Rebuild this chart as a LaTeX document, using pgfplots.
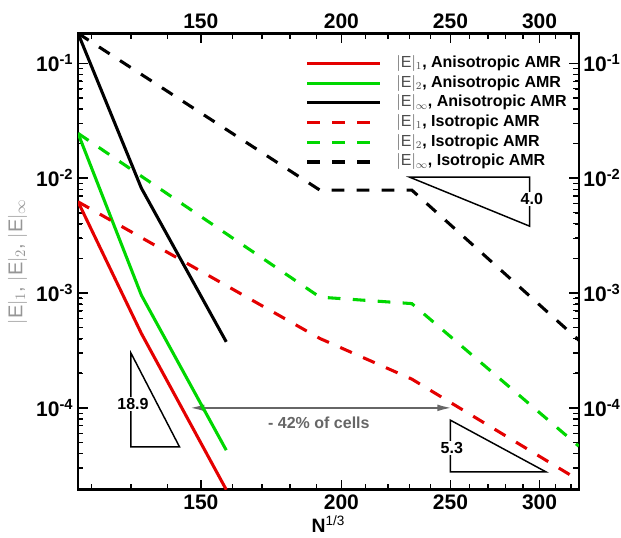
\documentclass[border=0pt]{standalone}
\usepackage{fontspec}
\setmainfont{Liberation Sans}
\usepackage{pgfplots}
\pgfplotsset{compat=1.18}
\usetikzlibrary{arrows.meta}

\definecolor{tpred}{RGB}{228,0,0}
\definecolor{tpgreen}{RGB}{0,215,0}
\definecolor{arrowgray}{RGB}{102,102,102}
\definecolor{labelgray}{RGB}{150,150,150}

\newcommand{\Enorm}{|\mathrm{E}|}

\begin{document}
\begin{tikzpicture}
\begin{axis}[
    scale only axis, width=375.5pt, height=342.2pt,
    xmode=log, ymode=log,
    xmin=116.66, xmax=325.1, ymin=1.94e-5, ymax=0.1825,
    xtick={150,200,250,300}, xticklabels={150,200,250,300},
    ytick={1e-4,1e-3,1e-2,1e-1},
    yticklabels={10\textsuperscript{-4},10\textsuperscript{-3},10\textsuperscript{-2},10\textsuperscript{-1}},
    major tick length=7.5pt,
    xtick style={black, line width=1.2pt},
    ytick style={black, line width=1.2pt},
    axis line style={line width=1.8pt},
    ticklabel style={font=\fontsize{15.75}{18}\selectfont\bfseries},
    xlabel={\textbf{N}\textsuperscript{1/3}},
    xlabel style={font=\fontsize{14.5}{17}\selectfont, yshift=2pt},
    ylabel={\color{labelgray}$\Enorm_1$, $\Enorm_2$, $\Enorm_\infty$},
    ylabel style={font=\fontsize{15}{18}\selectfont},
    legend cell align=left,
    legend image code/.code={\draw[#1] (0pt,0pt) -- (54.6pt,0pt);},
    legend style={draw=none, fill=none, at={(0.4544,0.951)}, anchor=north west,
      inner sep=0pt, row sep=3.8pt, column sep=11pt,
      nodes={inner sep=0pt, text height=8.5pt, text depth=2.5pt},
      font=\fontsize{12}{14}\selectfont\bfseries},
]

% inward ticks on all four sides, drawn with both ends in axis units
\pgfplotsinvokeforeach{150,200,250,300}{
  \draw[line width=1.2pt] (axis cs:#1,1.94e-5) -- (axis cs:#1,2.371e-5);
  \draw[line width=1.2pt] (axis cs:#1,0.1825) -- (axis cs:#1,0.1493);
}
\pgfplotsinvokeforeach{120,130,140,160,170,180,190,210,220,230,240,260,270,280,290,310,320}{
  \draw[line width=0.9pt] (axis cs:#1,1.94e-5) -- (axis cs:#1,2.159e-5);
  \draw[line width=0.9pt] (axis cs:#1,0.1825) -- (axis cs:#1,0.1640);
}
\pgfplotsinvokeforeach{1e-4,1e-3,1e-2,1e-1}{
  \draw[line width=1.2pt] (axis cs:116.66,#1) -- (axis cs:119.08,#1);
  \draw[line width=1.2pt] (axis cs:325.1,#1) -- (axis cs:318.5,#1);
}
\pgfplotsinvokeforeach{2e-5,3e-5,4e-5,5e-5,6e-5,7e-5,8e-5,9e-5,
                       2e-4,3e-4,4e-4,5e-4,6e-4,7e-4,8e-4,9e-4,
                       2e-3,3e-3,4e-3,5e-3,6e-3,7e-3,8e-3,9e-3,
                       2e-2,3e-2,4e-2,5e-2,6e-2,7e-2,8e-2,9e-2}{
  \draw[line width=0.9pt] (axis cs:116.66,#1) -- (axis cs:117.94,#1);
  \draw[line width=0.9pt] (axis cs:325.1,#1) -- (axis cs:321.6,#1);
}

% slope triangles and the cell-count arrow
\draw[line width=1.1pt] (axis cs:130,3.0e-4) -- (axis cs:130,4.57e-5) -- (axis cs:143.6,4.57e-5) -- cycle;
\node[fill=white, inner sep=1pt, font=\fontsize{12}{14}\selectfont\bfseries] at (axis cs:130.55,1.077e-4) {18.9};
\draw[line width=1.1pt] (axis cs:250,7.81e-5) -- (axis cs:250,2.77e-5) -- (axis cs:304,2.77e-5) -- cycle;
\node[fill=white, inner sep=1pt, font=\fontsize{12}{14}\selectfont\bfseries] at (axis cs:250.7,4.43e-5) {5.3};
\draw[line width=1.1pt] (axis cs:230,0.0102) -- (axis cs:294,0.0102) -- (axis cs:294,3.82e-3) -- cycle;
\node[fill=white, inner sep=1pt, font=\fontsize{12}{14}\selectfont\bfseries] at (axis cs:295.3,6.54e-3) {4.0};
\draw[arrowgray, line width=1.8pt, {Latex[length=12pt,width=5pt]}-{Latex[length=12pt,width=5pt]}]
  (axis cs:146.2,1e-4) -- (axis cs:251.5,1e-4);
\node[arrowgray, anchor=north, inner sep=0pt, font=\fontsize{12}{14}\selectfont\bfseries]
  at ([yshift=-6.75pt]axis cs:191,1e-4) {- 42\% of cells};

\addplot[tpred, line width=2.3pt, line join=round] coordinates {(116.66,6.23e-3) (132.8,4.45e-4) (158.0,1.94e-5)};
\addlegendentry{{\mdseries\color{black!70}$\Enorm_1$}, Anisotropic AMR}
\addplot[tpgreen, line width=2.3pt, line join=round] coordinates {(116.66,2.457e-2) (132.8,9.59e-4) (158.0,4.28e-5)};
\addlegendentry{{\mdseries\color{black!70}$\Enorm_2$}, Anisotropic AMR}
\addplot[black, line width=2.3pt, line join=round] coordinates {(116.66,0.1825) (132.8,8.2e-3) (158.0,3.76e-4)};
\addlegendentry{{\mdseries\color{black!70}$\Enorm_\infty$}, Anisotropic AMR}

\addplot[tpred, line width=2.3pt, dash pattern=on 9.5pt off 9.25pt] coordinates {(116.66,6.23e-3) (191.4,4.02e-4) (231.0,1.78e-4) (325.1,2.35e-5)};
\addlegendentry{{\mdseries\color{black!70}$\Enorm_1$}, Isotropic AMR}
\addplot[tpgreen, line width=2.3pt, dash pattern=on 9.5pt off 9.25pt] coordinates {(116.66,2.457e-2) (191.4,9.21e-4) (231.0,8.09e-4) (325.1,4.64e-5)};
\addlegendentry{{\mdseries\color{black!70}$\Enorm_2$}, Isotropic AMR}
\addplot[black, line width=2.3pt, dash pattern=on 9.5pt off 9.25pt] coordinates {(116.66,0.1825) (191.4,7.87e-3) (231.0,7.87e-3) (325.1,3.89e-4)};
\addlegendentry{{\mdseries\color{black!70}$\Enorm_\infty$}, Isotropic AMR}
\end{axis}

% tick labels repeated on the top and right sides (positions of the log ticks in pt)
\begin{scope}[every node/.style={inner sep=0.333em, font=\fontsize{15.75}{18}\selectfont\bfseries}]
\node[anchor=south] at (92.1pt,342.2pt) {150};
\node[anchor=south] at (197.5pt,342.2pt) {200};
\node[anchor=south] at (279.3pt,342.2pt) {250};
\node[anchor=south] at (346.1pt,342.2pt) {300};
\node[anchor=west] at (375.5pt,61.33pt) {10\textsuperscript{-4}};
\node[anchor=west] at (375.5pt,147.46pt) {10\textsuperscript{-3}};
\node[anchor=west] at (375.5pt,233.58pt) {10\textsuperscript{-2}};
\node[anchor=west] at (375.5pt,319.70pt) {10\textsuperscript{-1}};
\end{scope}

\pgfresetboundingbox
\path[use as bounding box] ([shift={(-58.5pt,-35.6pt)}]current axis.south west)
  rectangle ([shift={(31.7pt,25pt)}]current axis.north east);
\end{tikzpicture}
\end{document}
